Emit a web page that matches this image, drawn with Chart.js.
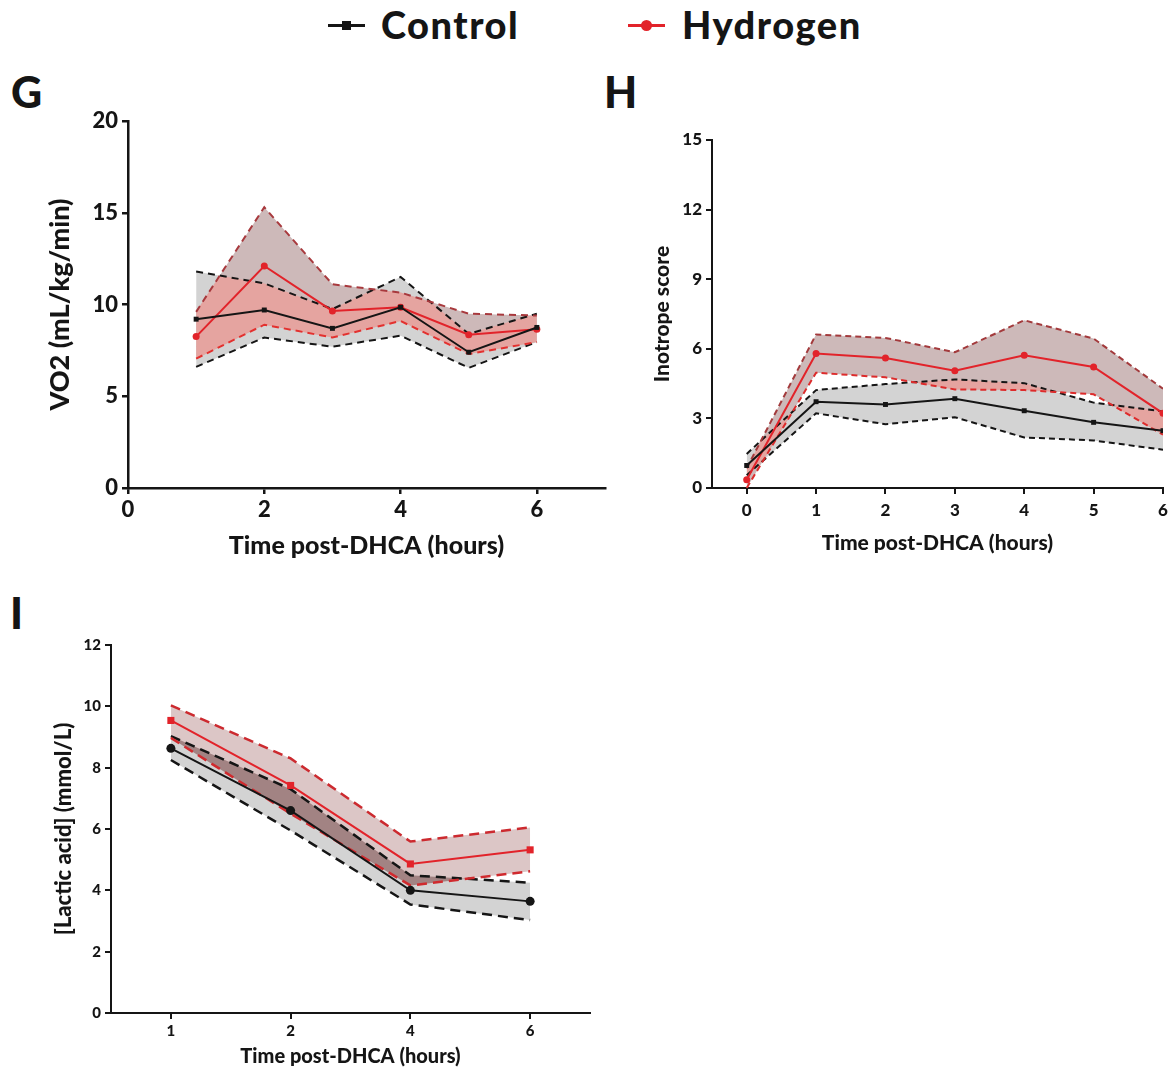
<!DOCTYPE html>
<html>
<head>
<meta charset="utf-8">
<script src="https://cdn.jsdelivr.net/npm/chart.js@4.4.1/dist/chart.umd.min.js"></script>
<style>
  body { margin: 0; background: #fff; }
  #page { position: relative; width: 1175px; height: 1070px; overflow: hidden; font-family: Lato, sans-serif; color: #151515; }
  .box { position: absolute; }
  .tag { position: absolute; font: 900 43px/42px Lato, sans-serif; }
  .key { position: absolute; font: 900 38px/40px Lato, sans-serif; letter-spacing: 1.5px; white-space: nowrap; }
  .swatch { position: absolute; }
</style>
</head>
<body>
<div id="page">
  <!-- legend -->
  <div class="swatch" style="left:328px;top:24px;width:37px;height:3px;background:#151515"></div>
  <div class="swatch" style="left:342px;top:21px;width:9px;height:9px;background:#151515"></div>
  <div class="key" style="left:381px;top:4px">Control</div>
  <div class="swatch" style="left:628px;top:24px;width:37px;height:3px;background:#e2232a"></div>
  <div class="swatch" style="left:641px;top:20px;width:11px;height:11px;border-radius:50%;background:#e2232a"></div>
  <div class="key" style="left:682px;top:4px">Hydrogen</div>

  <div class="tag" style="left:11px;top:71px">G</div>
  <div class="tag" style="left:604px;top:71px">H</div>
  <div class="tag" style="left:10px;top:592px">I</div>

  <div class="box" style="left:0;top:100px;width:620px;height:470px"><canvas id="chartG"></canvas></div>
  <div class="box" style="left:600px;top:100px;width:575px;height:470px"><canvas id="chartH"></canvas></div>
  <div class="box" style="left:0;top:600px;width:620px;height:470px"><canvas id="chartI"></canvas></div>
</div>

<script>
// ---- G: VO2 ----
const gHours = [1, 2, 3, 4, 5, 6];
const gTicksX = [0, 2, 4, 6];
const gControl = [9.2, 9.7, 8.7, 9.85, 7.4, 8.75];
const gControlHi = [11.8, 11.15, 9.75, 11.5, 8.4, 9.5];
const gControlLo = [6.6, 8.2, 7.7, 8.3, 6.55, 7.95];
const gHydrogen = [8.25, 12.1, 9.65, 9.85, 8.35, 8.65];
const gHydrogenHi = [9.6, 15.3, 11.1, 10.65, 9.5, 9.4];
const gHydrogenLo = [7.05, 8.9, 8.2, 9.1, 7.3, 7.95];

// ---- H: inotrope score ----
const hHours = [0, 1, 2, 3, 4, 5, 6];
const hTicksX = [0, 1, 2, 3, 4, 5, 6];
const hControl = [0.97, 3.72, 3.6, 3.85, 3.33, 2.83, 2.47];
const hControlHi = [1.47, 4.22, 4.48, 4.68, 4.52, 3.68, 3.3];
const hControlLo = [0.55, 3.22, 2.75, 3.05, 2.18, 2.05, 1.65];
const hHydrogen = [0.36, 5.8, 5.6, 5.05, 5.72, 5.22, 3.22];
const hHydrogenHi = [0.85, 6.62, 6.47, 5.85, 7.23, 6.44, 4.28];
const hHydrogenLo = [0.0, 4.97, 4.77, 4.25, 4.22, 4.04, 2.3];

// ---- I: lactic acid ----
const iHours = ['1', '2', '4', '6'];
const iControl = [8.63, 6.6, 4.0, 3.64];
const iControlHi = [9.03, 7.3, 4.49, 4.25];
const iControlLo = [8.25, 5.95, 3.54, 3.03];
const iHydrogen = [9.54, 7.42, 4.86, 5.32];
const iHydrogenHi = [10.03, 8.3, 5.59, 6.05];
const iHydrogenLo = [8.97, 6.5, 4.16, 4.62];

const BLACK = '#151515';
const RED = '#e2232a';

function pts(xs, ys) {
  return xs.map((x, i) => ({ x: x, y: ys[i] }));
}

// paints the region where both bands overlap (datasets 0/1 = control, 2/3 = hydrogen)
const overlapPlugin = {
  id: 'overlap',
  beforeDatasetsDraw(chart, args, opts) {
    const band = (a, b) => {
      const top = chart.getDatasetMeta(a).data;
      const bot = chart.getDatasetMeta(b).data;
      const p = new Path2D();
      top.forEach((el, i) => i ? p.lineTo(el.x, el.y) : p.moveTo(el.x, el.y));
      for (let i = bot.length - 1; i >= 0; i--) p.lineTo(bot[i].x, bot[i].y);
      p.closePath();
      return p;
    };
    const ctx = chart.ctx;
    ctx.save();
    ctx.clip(band(2, 3));
    ctx.fillStyle = opts.color;
    ctx.fill(band(0, 1));
    ctx.restore();
  }
};

function datasets(s) {
  const dashed = (data, color) => ({
    data: data, borderColor: color, borderWidth: s.dashW, borderDash: s.dash,
    pointRadius: 0, tension: 0, fill: false
  });
  return [
    Object.assign(dashed(s.cHi, BLACK), { label: 'Control upper', order: 2 }),
    Object.assign(dashed(s.cLo, BLACK), { label: 'Control lower', order: 2, fill: '-1', backgroundColor: s.grey }),
    Object.assign(dashed(s.hHi, s.redHi), { label: 'Hydrogen upper', order: 1 }),
    Object.assign(dashed(s.hLo, s.redLo), { label: 'Hydrogen lower', order: 1, fill: '-1', backgroundColor: s.pink }),
    {
      label: 'Control', data: s.c, order: 0, borderColor: BLACK, backgroundColor: BLACK,
      borderWidth: 2, pointStyle: s.cPoint, pointRadius: s.cR, pointBorderWidth: 0, tension: 0, fill: false
    },
    {
      label: 'Hydrogen', data: s.h, order: 0, borderColor: RED, backgroundColor: RED,
      borderWidth: 2, pointStyle: s.hPoint, pointRadius: s.hR, pointBorderWidth: 0, tension: 0, fill: false
    }
  ];
}

function axisStyle(size, lw) {
  return {
    ticks: { color: BLACK, font: { family: 'Lato', weight: 900, size: size } },
    grid: { drawOnChartArea: false, drawTicks: true, tickLength: 6, color: BLACK, lineWidth: lw },
    border: { display: true, color: BLACK, width: lw }
  };
}

function makeChart(id, s) {
  const xAxis = axisStyle(s.tickSize, s.axisW);
  Object.assign(xAxis, s.x);
  xAxis.ticks.padding = s.xTickPad;
  xAxis.afterFit = (scale) => { scale.height = s.xHeight; };
  xAxis.title = {
    display: true, text: 'Time post-DHCA (hours)', color: BLACK,
    font: { family: 'Lato', weight: 900, size: s.xTitleSize },
    padding: { top: 0, bottom: s.xTitlePad }
  };

  const yAxis = axisStyle(s.tickSize, s.axisW);
  yAxis.type = 'linear';
  yAxis.min = 0;
  yAxis.max = s.yMax;
  yAxis.ticks.stepSize = s.yStep;
  yAxis.ticks.padding = 4;
  yAxis.afterFit = (scale) => { scale.width = s.yWidth; };
  yAxis.title = {
    display: true, text: s.yTitle, color: BLACK,
    font: { family: 'Lato', weight: 900, size: s.yTitleSize },
    padding: { top: s.yTitlePad, bottom: 0 }
  };

  return new Chart(document.getElementById(id), {
    type: 'line',
    data: { labels: s.labels, datasets: datasets(s) },
    plugins: [overlapPlugin],
    options: {
      responsive: true,
      maintainAspectRatio: false,
      animation: false,
      layout: { padding: s.pad },
      plugins: {
        legend: { display: false },
        tooltip: { enabled: false },
        filler: { drawTime: 'beforeDatasetsDraw' },
        overlap: { color: s.overlap }
      },
      scales: { x: xAxis, y: yAxis }
    }
  });
}

const chartG = makeChart('chartG', {
  c: pts(gHours, gControl), cHi: pts(gHours, gControlHi), cLo: pts(gHours, gControlLo),
  h: pts(gHours, gHydrogen), hHi: pts(gHours, gHydrogenHi), hLo: pts(gHours, gHydrogenLo),
  dash: [7, 5], dashW: 2, redHi: '#a8393d', redLo: '#e3312f',
  grey: '#d3d3d3', pink: '#cdb9b9', overlap: '#e5a4a0',
  cPoint: 'rect', cR: 3.5, hPoint: 'circle', hR: 3.5,
  x: {
    type: 'linear', min: 0, max: 7,
    afterBuildTicks: (scale) => { scale.ticks = gTicksX.map(v => ({ value: v })); }
  },
  yMax: 20, yStep: 5, yTitle: 'VO2 (mL/kg/min)',
  tickSize: 22, axisW: 2.5, xTickPad: 3, xHeight: 82, xTitleSize: 25, xTitlePad: 9,
  yWidth: 128, yTitleSize: 27, yTitlePad: 44,
  pad: { top: 21, right: 15, left: 0, bottom: 0 }
});

const chartH = makeChart('chartH', {
  c: pts(hHours, hControl), cHi: pts(hHours, hControlHi), cLo: pts(hHours, hControlLo),
  h: pts(hHours, hHydrogen), hHi: pts(hHours, hHydrogenHi), hLo: pts(hHours, hHydrogenLo),
  dash: [6, 4], dashW: 2, redHi: '#a33a3c', redLo: '#dd2b2b',
  grey: '#d3d3d3', pink: '#cdb9b9', overlap: '#e5a4a0',
  cPoint: 'rect', cR: 3.5, hPoint: 'circle', hR: 3.5,
  x: {
    type: 'linear', min: -0.5, max: 6,
    afterBuildTicks: (scale) => { scale.ticks = hTicksX.map(v => ({ value: v })); }
  },
  yMax: 15, yStep: 3, yTitle: 'Inotrope score',
  tickSize: 17, axisW: 2, xTickPad: 6, xHeight: 82, xTitleSize: 21, xTitlePad: 14,
  yWidth: 112, yTitleSize: 21, yTitlePad: 50,
  pad: { top: 40, right: 12, left: 0, bottom: 0 }
});

const chartI = makeChart('chartI', {
  labels: iHours,
  c: iControl, cHi: iControlHi, cLo: iControlLo,
  h: iHydrogen, hHi: iHydrogenHi, hLo: iHydrogenLo,
  dash: [10, 6], dashW: 2.5, redHi: '#cc2a2f', redLo: '#d02a2e',
  grey: '#d3d3d3', pink: '#dcc6c6', overlap: '#a28383',
  cPoint: 'circle', cR: 4.5, hPoint: 'rect', hR: 5,
  x: { type: 'category', offset: true },
  yMax: 12, yStep: 2, yTitle: '[Lactic acid] (mmol/L)',
  tickSize: 15, axisW: 2, xTickPad: 3, xHeight: 57, xTitleSize: 20, xTitlePad: 1,
  yWidth: 111, yTitleSize: 22, yTitlePad: 51,
  pad: { top: 45, right: 30, left: 0, bottom: 0 }
});
</script>
</body>
</html>
